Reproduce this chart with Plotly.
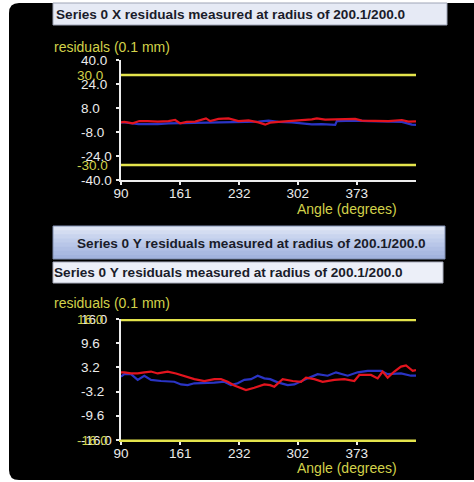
import plotly.graph_objects as go

W, H = 474, 482

# ---- data -------------------------------------------------------------
x_tick_vals = [90, 161, 232, 302, 373]
x_range = [90, 444]

# X residuals (0.1 mm)
x_ticks_y = [40.0, 24.0, 8.0, -8.0, -24.0, -40.0]
x_limits = [30.0, -30.0]
x_red_angle = [90, 94, 104, 112, 122, 134, 147, 155, 161, 169, 179, 192, 197, 207,
               219, 231, 243, 255, 263, 269, 279, 291, 307, 319, 325, 335, 347, 363,
               371, 379, 395, 411, 427, 435, 444]
x_red_val = [-1.6, -1.3, -2.2, -0.7, -0.7, -1.1, -0.7, 0.0, -2.2, -1.3, -1.1, 1.1, -0.7, 0.7,
             1.1, -0.7, -0.2, -1.6, -3.1, -1.8, -1.3, -0.7, -0.4, 0.4, 1.1, 0.2, 0.4, 0.9,
             0.7, -0.4, -0.4, -0.7, 0.0, -1.1, -0.9]
x_blue_angle = [90, 94, 111, 126, 134, 147, 167, 187, 207, 223, 239, 255, 267, 279, 295,
                307, 319, 331, 347, 349, 371, 387, 427, 439, 444]
x_blue_val = [-1.6, -1.6, -2.7, -3.0, -2.7, -2.2, -2.0, -2.2, -2.0, -1.6, -1.3, -1.1, -0.4, -1.3, -1.6,
              -2.4, -2.9, -2.7, -3.3, -0.7, -0.4, -0.7, -1.3, -3.1, -3.3]

# Y residuals (0.1 mm)
y_ticks_y = [16.0, 9.6, 3.2, -3.2, -9.6, -16.0]
y_limits = [16.0, -16.0]
y_red_angle = [90, 94, 102, 110, 118, 126, 134, 146, 156, 166, 178, 190, 202, 210, 218,
               226, 234, 240, 250, 262, 269, 274, 284, 296, 306, 312, 322, 332, 346, 358,
               370, 376, 390, 398, 404, 410, 418, 426, 432, 440, 444]
y_red_val = [1.9, 1.9, 1.6, 1.6, 1.9, 2.1, 1.6, 2.1, 1.6, 1.0, 0.1, -0.4, 0.1, 0.1, -0.6,
             -1.6, -2.3, -2.8, -2.2, -1.3, -1.5, -1.9, 0.1, -0.4, -0.6, 0.5, 0.1, -0.6, -0.1, 0.1,
             -0.4, 1.2, 1.2, 0.3, 2.1, 0.5, 2.1, 3.4, 3.7, 2.3, 2.5]
y_blue_angle = [90, 94, 102, 110, 118, 126, 138, 154, 162, 170, 178, 190, 202, 214, 222,
                230, 238, 246, 254, 262, 269, 278, 290, 298, 306, 314, 326, 338, 348, 362,
                374, 386, 402, 410, 426, 438, 444]
y_blue_val = [0.75, 1.4, 1.4, -0.1, 1.0, -0.1, -0.4, -0.6, -1.3, -1.5, -1.0, -1.0, -0.8, -0.6, -1.5,
              -1.0, -0.1, 0.1, 1.0, 0.3, 0.1, -0.75, -1.5, -1.3, -0.6, 0.3, 1.4, 1.0, 1.9, 1.0,
              1.9, 2.3, 2.3, 1.4, 1.6, 1.0, 1.0]

title_x = "Series 0 X residuals measured at radius of 200.1/200.0"
title_y = "Series 0 Y residuals measured at radius of 200.1/200.0"
y_label = "residuals (0.1 mm)"
x_label = "Angle (degrees)"

# ---- styling ----------------------------------------------------------
RED = "#e3141e"
BLUE = "#2a34c4"
YELLOW_LINE = "#e4e44c"
YELLOW_TEXT = "#d2d24a"
WHITE = "#ececec"
FONT = "Liberation Sans, Arial, sans-serif"


def px(x):
    return x / W


def py(y):
    return 1 - y / H


fig = go.Figure()

# series
for xa, ya, ang, val, col in [
    ("x", "y", x_blue_angle, x_blue_val, BLUE),
    ("x", "y", x_red_angle, x_red_val, RED),
    ("x2", "y2", y_blue_angle, y_blue_val, BLUE),
    ("x2", "y2", y_red_angle, y_red_val, RED),
]:
    fig.add_trace(go.Scatter(x=ang, y=val, mode="lines", xaxis=xa, yaxis=ya,
                             line=dict(color=col, width=2.2), hoverinfo="skip",
                             showlegend=False))

# tolerance lines; the Y chart's upper limit sits on the top edge of the plot,
# so it is drawn wider to keep a 2px visible band after clipping, while its
# lower limit coincides with the (yellow) x axis line
limit_widths = {("y", 30.0): 2.5, ("y", -30.0): 2.5, ("y2", 16.0): 4.5, ("y2", -16.0): 1.0}
for xa, ya, lims in [("x", "y", x_limits), ("x2", "y2", y_limits)]:
    for lim in lims:
        fig.add_trace(go.Scatter(x=x_range, y=[lim, lim], mode="lines", xaxis=xa, yaxis=ya,
                                 line=dict(color=YELLOW_LINE, width=limit_widths[(ya, lim)]),
                                 hoverinfo="skip", showlegend=False))

axis_common = dict(
    showgrid=False, zeroline=False, showline=True, linewidth=2,
    ticks="outside", ticklen=3, tickwidth=2, tickcolor=WHITE, automargin=False,
)

x_dom = [px(121), px(416)]
fig.update_layout(
    xaxis=dict(domain=x_dom, range=x_range, tickvals=x_tick_vals, anchor="y",
               linecolor=WHITE, ticklabelstandoff=-3,
               tickfont=dict(color=WHITE, size=13.5, family=FONT), **axis_common),
    yaxis=dict(domain=[py(180), py(60)], range=[-40, 40], tickvals=x_ticks_y,
               linecolor=WHITE, showticklabels=False, anchor="x", **axis_common),
    xaxis2=dict(domain=x_dom, range=x_range, tickvals=x_tick_vals, anchor="y2",
                linecolor=YELLOW_LINE, ticklabelstandoff=-3,
                tickfont=dict(color=WHITE, size=13.5, family=FONT), **axis_common),
    yaxis2=dict(domain=[py(440), py(319)], range=[-16, 16], tickvals=y_ticks_y,
                linecolor=WHITE, showticklabels=False, anchor="x2", **axis_common),
)

shapes = []
# black rounded panel
r = 10
x0, x1, y0, y1 = 9, 480, 3, 480
shapes.append(dict(
    type="path", xref="paper", yref="paper", layer="below",
    path=(f"M {px(x0 + r)} {py(y0)} L {px(x1)} {py(y0)} L {px(x1)} {py(y1)} "
          f"L {px(x0 + r)} {py(y1)} Q {px(x0)} {py(y1)} {px(x0)} {py(y1 - r)} "
          f"L {px(x0)} {py(y0 + r)} Q {px(x0)} {py(y0)} {px(x0 + r)} {py(y0)} Z"),
    fillcolor="#000000", line=dict(width=0)))

# header bar of the X chart
shapes.append(dict(type="rect", xref="paper", yref="paper", layer="below",
                   x0=px(53), x1=px(447), y0=py(25), y1=py(3),
                   fillcolor="#e6eaf5", line=dict(color="#9ea4b6", width=1)))

# gradient button of the Y chart: each band reaches down to the button's
# bottom so that the bands leave no seams between them
btn_top, btn_bot = 226, 259
steps = ["#dde4f4", "#d3dcf1", "#c9d4ee", "#c0cdeb", "#b8c6e8", "#b0bfe4", "#a9b9e1", "#a2b3de"]
h = (btn_bot - btn_top) / len(steps)
for i, c in enumerate(steps):
    shapes.append(dict(type="rect", xref="paper", yref="paper", layer="below",
                       x0=px(53), x1=px(445), y0=py(btn_bot), y1=py(btn_top + i * h),
                       fillcolor=c, line=dict(width=0)))
shapes.append(dict(type="rect", xref="paper", yref="paper", layer="below",
                   x0=px(53), x1=px(445), y0=py(btn_bot), y1=py(btn_top),
                   fillcolor="rgba(0,0,0,0)", line=dict(color="#7f8db0", width=1)))

# header bar under the button
shapes.append(dict(type="rect", xref="paper", yref="paper", layer="below",
                   x0=px(53), x1=px(443), y0=py(283), y1=py(262),
                   fillcolor="#eceff8", line=dict(color="#a8acbc", width=1)))

annotations = []


def text(x, y, s, color, size=13.5, xanchor="left", bold=False, xref="paper", yref="paper"):
    annotations.append(dict(
        x=x, y=y, xref=xref, yref=yref, text=f"<b>{s}</b>" if bold else s,
        showarrow=False, xanchor=xanchor, yanchor="middle",
        font=dict(color=color, size=size, family=FONT)))


text(px(54), py(14.5), title_x, "#1a1c2a", size=13.6, bold=True)
text(px(252), py(243), title_y, "#1a1c2a", size=13.6, xanchor="center", bold=True)
text(px(52), py(272.5), title_y, "#1a1c2a", size=13.6, bold=True)

text(px(52), py(47), y_label, YELLOW_TEXT, size=14)
text(px(52), py(303), y_label, YELLOW_TEXT, size=14)
text(px(347), py(209), x_label, YELLOW_TEXT, size=14, xanchor="center")
text(px(347), py(468), x_label, YELLOW_TEXT, size=14, xanchor="center")

# y tick labels, left aligned
for v in x_ticks_y:
    text(px(79), v, f"{v:.1f}", WHITE, yref="y")
for v in y_ticks_y:
    text(px(79), v, f"{v:.1f}", WHITE, yref="y2")
# tolerance labels
for v in x_limits:
    text(px(75), v, f"{v:.1f}", YELLOW_TEXT, yref="y")
for v in y_limits:
    text(px(75), v, f"{v:.1f}", YELLOW_TEXT, yref="y2")

fig.update_layout(
    width=W, height=H, margin=dict(l=0, r=0, t=0, b=0, pad=0),
    paper_bgcolor="#ffffff", plot_bgcolor="#000000",
    shapes=shapes, annotations=annotations, showlegend=False,
    font=dict(family=FONT),
)

fig.write_html("out.html")
